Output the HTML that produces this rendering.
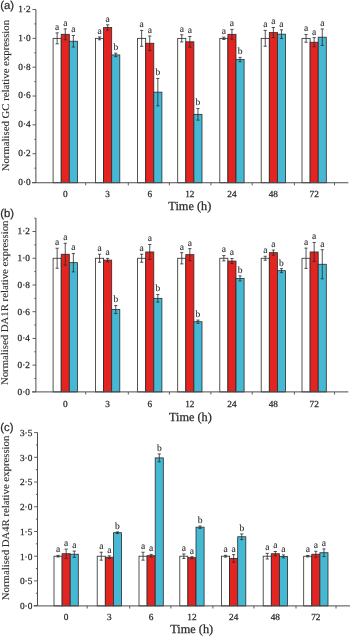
<!DOCTYPE html>
<html><head><meta charset="utf-8"><style>
html,body{margin:0;padding:0;background:#fff;width:350px;height:636px;overflow:hidden}
svg{display:block;will-change:transform;filter:blur(0.3px)}
text{text-rendering:geometricPrecision}
text{font-family:"Liberation Serif",serif;fill:#2b2b2b;stroke:#2b2b2b;stroke-width:0.25px}
.lab{font-family:"Liberation Sans",sans-serif;font-size:11.3px}
.ttl{font-size:10.75px;stroke-width:0.12px}
.tk{font-size:9.3px}
.let{font-size:9.5px;stroke-width:0.12px}
.tm{font-size:12.3px}
</style></head><body>
<svg width="350" height="636" viewBox="0 0 350 636">
<text x="0.3" y="9.4" class="lab">(a)</text>
<text transform="translate(8.6,95.6) rotate(-90) scale(1,0.95)" text-anchor="middle" class="ttl">Normalised GC relative expression</text>
<rect x="53.1" y="38.35" width="8.1" height="144.4" fill="#ffffff" stroke="#2a2a2a" stroke-width="0.8"/>
<path d="M57.15 32.87V43.83M55.55 32.87H58.75M55.55 43.83H58.75" stroke="#2a2a2a" stroke-width="0.8" fill="none"/>
<text x="57.15" y="29.77" text-anchor="middle" class="let">a</text>
<rect x="61.2" y="34.31" width="8.1" height="148.44" fill="#e42421" stroke="#2a2a2a" stroke-width="0.8"/>
<path d="M65.25 28.83V39.79M63.65 28.83H66.85M63.65 39.79H66.85" stroke="#2a2a2a" stroke-width="0.8" fill="none"/>
<text x="65.25" y="25.73" text-anchor="middle" class="let">a</text>
<rect x="69.3" y="41.23" width="8.1" height="141.52" fill="#45b9d3" stroke="#2a2a2a" stroke-width="0.8"/>
<path d="M73.35 35.47V47M71.75 35.47H74.95M71.75 47H74.95" stroke="#2a2a2a" stroke-width="0.8" fill="none"/>
<text x="73.35" y="32.37" text-anchor="middle" class="let">a</text>
<rect x="95.5" y="38.35" width="8.1" height="144.4" fill="#ffffff" stroke="#2a2a2a" stroke-width="0.8"/>
<path d="M99.55 36.91V39.79M97.95 36.91H101.15M97.95 39.79H101.15" stroke="#2a2a2a" stroke-width="0.8" fill="none"/>
<text x="99.55" y="33.81" text-anchor="middle" class="let">a</text>
<rect x="103.6" y="27.54" width="8.1" height="155.21" fill="#e42421" stroke="#2a2a2a" stroke-width="0.8"/>
<path d="M107.65 24.8V30.27M106.05 24.8H109.25M106.05 30.27H109.25" stroke="#2a2a2a" stroke-width="0.8" fill="none"/>
<text x="107.65" y="21.7" text-anchor="middle" class="let">a</text>
<rect x="111.7" y="54.93" width="8.1" height="127.82" fill="#45b9d3" stroke="#2a2a2a" stroke-width="0.8"/>
<path d="M115.75 53.2V56.66M114.15 53.2H117.35M114.15 56.66H117.35" stroke="#2a2a2a" stroke-width="0.8" fill="none"/>
<text x="115.75" y="50.1" text-anchor="middle" class="let">b</text>
<rect x="137.6" y="38.35" width="8.1" height="144.4" fill="#ffffff" stroke="#2a2a2a" stroke-width="0.8"/>
<path d="M141.65 30.42V46.28M140.05 30.42H143.25M140.05 46.28H143.25" stroke="#2a2a2a" stroke-width="0.8" fill="none"/>
<text x="141.65" y="27.32" text-anchor="middle" class="let">a</text>
<rect x="145.7" y="43.25" width="8.1" height="139.5" fill="#e42421" stroke="#2a2a2a" stroke-width="0.8"/>
<path d="M149.75 36.04V50.46M148.15 36.04H151.35M148.15 50.46H151.35" stroke="#2a2a2a" stroke-width="0.8" fill="none"/>
<text x="149.75" y="32.94" text-anchor="middle" class="let">a</text>
<rect x="153.8" y="92.14" width="8.1" height="90.61" fill="#45b9d3" stroke="#2a2a2a" stroke-width="0.8"/>
<path d="M157.85 78.44V105.84M156.25 78.44H159.45M156.25 105.84H159.45" stroke="#2a2a2a" stroke-width="0.8" fill="none"/>
<text x="157.85" y="75.34" text-anchor="middle" class="let">b</text>
<rect x="177.7" y="38.35" width="8.1" height="144.4" fill="#ffffff" stroke="#2a2a2a" stroke-width="0.8"/>
<path d="M181.75 34.75V41.96M180.15 34.75H183.35M180.15 41.96H183.35" stroke="#2a2a2a" stroke-width="0.8" fill="none"/>
<text x="181.75" y="31.65" text-anchor="middle" class="let">a</text>
<rect x="185.8" y="41.81" width="8.1" height="140.94" fill="#e42421" stroke="#2a2a2a" stroke-width="0.8"/>
<path d="M189.85 36.48V47.15M188.25 36.48H191.45M188.25 47.15H191.45" stroke="#2a2a2a" stroke-width="0.8" fill="none"/>
<text x="189.85" y="33.38" text-anchor="middle" class="let">a</text>
<rect x="193.9" y="114.34" width="8.1" height="68.41" fill="#45b9d3" stroke="#2a2a2a" stroke-width="0.8"/>
<path d="M197.95 108.58V120.11M196.35 108.58H199.55M196.35 120.11H199.55" stroke="#2a2a2a" stroke-width="0.8" fill="none"/>
<text x="197.95" y="105.48" text-anchor="middle" class="let">b</text>
<rect x="219.8" y="38.35" width="8.1" height="144.4" fill="#ffffff" stroke="#2a2a2a" stroke-width="0.8"/>
<path d="M223.85 37.2V39.5M222.25 37.2H225.45M222.25 39.5H225.45" stroke="#2a2a2a" stroke-width="0.8" fill="none"/>
<text x="223.85" y="34.1" text-anchor="middle" class="let">a</text>
<rect x="227.9" y="34.31" width="8.1" height="148.44" fill="#e42421" stroke="#2a2a2a" stroke-width="0.8"/>
<path d="M231.95 29.41V39.22M230.35 29.41H233.55M230.35 39.22H233.55" stroke="#2a2a2a" stroke-width="0.8" fill="none"/>
<text x="231.95" y="26.31" text-anchor="middle" class="let">a</text>
<rect x="236" y="59.55" width="8.1" height="123.2" fill="#45b9d3" stroke="#2a2a2a" stroke-width="0.8"/>
<path d="M240.05 57.38V61.71M238.45 57.38H241.65M238.45 61.71H241.65" stroke="#2a2a2a" stroke-width="0.8" fill="none"/>
<text x="240.05" y="54.28" text-anchor="middle" class="let">b</text>
<rect x="261.2" y="38.35" width="8.1" height="144.4" fill="#ffffff" stroke="#2a2a2a" stroke-width="0.8"/>
<path d="M265.25 30.42V46.28M263.65 30.42H266.85M263.65 46.28H266.85" stroke="#2a2a2a" stroke-width="0.8" fill="none"/>
<text x="265.25" y="27.32" text-anchor="middle" class="let">a</text>
<rect x="269.3" y="32.58" width="8.1" height="150.17" fill="#e42421" stroke="#2a2a2a" stroke-width="0.8"/>
<path d="M273.35 27.54V37.63M271.75 27.54H274.95M271.75 37.63H274.95" stroke="#2a2a2a" stroke-width="0.8" fill="none"/>
<text x="273.35" y="24.44" text-anchor="middle" class="let">a</text>
<rect x="277.4" y="34.17" width="8.1" height="148.58" fill="#45b9d3" stroke="#2a2a2a" stroke-width="0.8"/>
<path d="M281.45 29.84V38.49M279.85 29.84H283.05M279.85 38.49H283.05" stroke="#2a2a2a" stroke-width="0.8" fill="none"/>
<text x="281.45" y="26.74" text-anchor="middle" class="let">a</text>
<rect x="302" y="38.35" width="8.1" height="144.4" fill="#ffffff" stroke="#2a2a2a" stroke-width="0.8"/>
<path d="M306.05 34.46V42.24M304.45 34.46H307.65M304.45 42.24H307.65" stroke="#2a2a2a" stroke-width="0.8" fill="none"/>
<text x="306.05" y="31.36" text-anchor="middle" class="let">a</text>
<rect x="310.1" y="42.24" width="8.1" height="140.51" fill="#e42421" stroke="#2a2a2a" stroke-width="0.8"/>
<path d="M314.15 37.63V46.86M312.55 37.63H315.75M312.55 46.86H315.75" stroke="#2a2a2a" stroke-width="0.8" fill="none"/>
<text x="314.15" y="34.53" text-anchor="middle" class="let">a</text>
<rect x="318.2" y="37.2" width="8.1" height="145.55" fill="#45b9d3" stroke="#2a2a2a" stroke-width="0.8"/>
<path d="M322.25 28.98V45.42M320.65 28.98H323.85M320.65 45.42H323.85" stroke="#2a2a2a" stroke-width="0.8" fill="none"/>
<text x="322.25" y="25.88" text-anchor="middle" class="let">a</text>
<path d="M35.9 9.51V182.75" stroke="#4c4c4c" stroke-width="1" fill="none"/>
<path d="M32 182.75H348.3" stroke="#4c4c4c" stroke-width="1" fill="none"/>
<path d="M32.5 182.55H35.9" stroke="#4c4c4c" stroke-width="0.9"/>
<text x="30.7" y="185" text-anchor="end" class="tk">0·0</text>
<path d="M34.3 168.13H35.9" stroke="#4c4c4c" stroke-width="0.9"/>
<path d="M32.5 153.71H35.9" stroke="#4c4c4c" stroke-width="0.9"/>
<text x="30.7" y="156.16" text-anchor="end" class="tk">0·2</text>
<path d="M34.3 139.29H35.9" stroke="#4c4c4c" stroke-width="0.9"/>
<path d="M32.5 124.87H35.9" stroke="#4c4c4c" stroke-width="0.9"/>
<text x="30.7" y="127.32" text-anchor="end" class="tk">0·4</text>
<path d="M34.3 110.45H35.9" stroke="#4c4c4c" stroke-width="0.9"/>
<path d="M32.5 96.03H35.9" stroke="#4c4c4c" stroke-width="0.9"/>
<text x="30.7" y="98.48" text-anchor="end" class="tk">0·6</text>
<path d="M34.3 81.61H35.9" stroke="#4c4c4c" stroke-width="0.9"/>
<path d="M32.5 67.19H35.9" stroke="#4c4c4c" stroke-width="0.9"/>
<text x="30.7" y="69.64" text-anchor="end" class="tk">0·8</text>
<path d="M34.3 52.77H35.9" stroke="#4c4c4c" stroke-width="0.9"/>
<path d="M32.5 38.35H35.9" stroke="#4c4c4c" stroke-width="0.9"/>
<text x="30.7" y="40.8" text-anchor="end" class="tk">1·0</text>
<path d="M34.3 23.93H35.9" stroke="#4c4c4c" stroke-width="0.9"/>
<path d="M32.5 9.51H35.9" stroke="#4c4c4c" stroke-width="0.9"/>
<text x="30.7" y="11.96" text-anchor="end" class="tk">1·2</text>
<path d="M85.7 182.75V185.35" stroke="#4c4c4c" stroke-width="0.9"/>
<path d="M128.3 182.75V185.35" stroke="#4c4c4c" stroke-width="0.9"/>
<path d="M169.4 182.75V185.35" stroke="#4c4c4c" stroke-width="0.9"/>
<path d="M210.9 182.75V185.35" stroke="#4c4c4c" stroke-width="0.9"/>
<path d="M252.2 182.75V185.35" stroke="#4c4c4c" stroke-width="0.9"/>
<path d="M294.4 182.75V185.35" stroke="#4c4c4c" stroke-width="0.9"/>
<path d="M334.5 182.75V185.35" stroke="#4c4c4c" stroke-width="0.9"/>
<text x="65.25" y="197.3" text-anchor="middle" class="tk">0</text>
<text x="107.65" y="197.3" text-anchor="middle" class="tk">3</text>
<text x="149.75" y="197.3" text-anchor="middle" class="tk">6</text>
<text x="189.85" y="197.3" text-anchor="middle" class="tk">12</text>
<text x="231.95" y="197.3" text-anchor="middle" class="tk">24</text>
<text x="273.35" y="197.3" text-anchor="middle" class="tk">48</text>
<text x="314.15" y="197.3" text-anchor="middle" class="tk">72</text>
<text x="189.8" y="210.4" text-anchor="middle" class="tm">Time (h)</text>
<text x="0.3" y="216.6" class="lab">(b)</text>
<text transform="translate(8.2,302.8) rotate(-90) scale(1,0.95)" text-anchor="middle" class="ttl">Normalised DA1R relative expression</text>
<rect x="53.1" y="258.25" width="8.1" height="133.65" fill="#ffffff" stroke="#2a2a2a" stroke-width="0.8"/>
<path d="M57.15 248.23V268.27M55.55 248.23H58.75M55.55 268.27H58.75" stroke="#2a2a2a" stroke-width="0.8" fill="none"/>
<text x="57.15" y="245.13" text-anchor="middle" class="let">a</text>
<rect x="61.2" y="254.24" width="8.1" height="137.66" fill="#e42421" stroke="#2a2a2a" stroke-width="0.8"/>
<path d="M65.25 243.29V265.2M63.65 243.29H66.85M63.65 265.2H66.85" stroke="#2a2a2a" stroke-width="0.8" fill="none"/>
<text x="65.25" y="240.19" text-anchor="middle" class="let">a</text>
<rect x="69.3" y="262.66" width="8.1" height="129.24" fill="#45b9d3" stroke="#2a2a2a" stroke-width="0.8"/>
<path d="M73.35 253.44V271.88M71.75 253.44H74.95M71.75 271.88H74.95" stroke="#2a2a2a" stroke-width="0.8" fill="none"/>
<text x="73.35" y="250.34" text-anchor="middle" class="let">a</text>
<rect x="95.5" y="258.25" width="8.1" height="133.65" fill="#ffffff" stroke="#2a2a2a" stroke-width="0.8"/>
<path d="M99.55 254.24V262.26M97.95 254.24H101.15M97.95 262.26H101.15" stroke="#2a2a2a" stroke-width="0.8" fill="none"/>
<text x="99.55" y="251.14" text-anchor="middle" class="let">a</text>
<rect x="103.6" y="260.12" width="8.1" height="131.78" fill="#e42421" stroke="#2a2a2a" stroke-width="0.8"/>
<path d="M107.65 258.38V261.86M106.05 258.38H109.25M106.05 261.86H109.25" stroke="#2a2a2a" stroke-width="0.8" fill="none"/>
<text x="107.65" y="255.28" text-anchor="middle" class="let">a</text>
<rect x="111.7" y="309.55" width="8.1" height="82.35" fill="#45b9d3" stroke="#2a2a2a" stroke-width="0.8"/>
<path d="M115.75 305.54V313.56M114.15 305.54H117.35M114.15 313.56H117.35" stroke="#2a2a2a" stroke-width="0.8" fill="none"/>
<text x="115.75" y="302.44" text-anchor="middle" class="let">b</text>
<rect x="137.6" y="258.25" width="8.1" height="133.65" fill="#ffffff" stroke="#2a2a2a" stroke-width="0.8"/>
<path d="M141.65 254.24V262.26M140.05 254.24H143.25M140.05 262.26H143.25" stroke="#2a2a2a" stroke-width="0.8" fill="none"/>
<text x="141.65" y="251.14" text-anchor="middle" class="let">a</text>
<rect x="145.7" y="251.97" width="8.1" height="139.93" fill="#e42421" stroke="#2a2a2a" stroke-width="0.8"/>
<path d="M149.75 244.49V259.45M148.15 244.49H151.35M148.15 259.45H151.35" stroke="#2a2a2a" stroke-width="0.8" fill="none"/>
<text x="149.75" y="241.39" text-anchor="middle" class="let">a</text>
<rect x="153.8" y="298.33" width="8.1" height="93.57" fill="#45b9d3" stroke="#2a2a2a" stroke-width="0.8"/>
<path d="M157.85 294.59V302.07M156.25 294.59H159.45M156.25 302.07H159.45" stroke="#2a2a2a" stroke-width="0.8" fill="none"/>
<text x="157.85" y="291.49" text-anchor="middle" class="let">b</text>
<rect x="177.7" y="258.25" width="8.1" height="133.65" fill="#ffffff" stroke="#2a2a2a" stroke-width="0.8"/>
<path d="M181.75 252.64V263.86M180.15 252.64H183.35M180.15 263.86H183.35" stroke="#2a2a2a" stroke-width="0.8" fill="none"/>
<text x="181.75" y="249.54" text-anchor="middle" class="let">a</text>
<rect x="185.8" y="254.64" width="8.1" height="137.26" fill="#e42421" stroke="#2a2a2a" stroke-width="0.8"/>
<path d="M189.85 248.63V260.65M188.25 248.63H191.45M188.25 260.65H191.45" stroke="#2a2a2a" stroke-width="0.8" fill="none"/>
<text x="189.85" y="245.53" text-anchor="middle" class="let">a</text>
<rect x="193.9" y="321.71" width="8.1" height="70.19" fill="#45b9d3" stroke="#2a2a2a" stroke-width="0.8"/>
<path d="M197.95 320.11V323.31M196.35 320.11H199.55M196.35 323.31H199.55" stroke="#2a2a2a" stroke-width="0.8" fill="none"/>
<text x="197.95" y="317.01" text-anchor="middle" class="let">b</text>
<rect x="219.8" y="258.25" width="8.1" height="133.65" fill="#ffffff" stroke="#2a2a2a" stroke-width="0.8"/>
<path d="M223.85 255.58V260.92M222.25 255.58H225.45M222.25 260.92H225.45" stroke="#2a2a2a" stroke-width="0.8" fill="none"/>
<text x="223.85" y="252.48" text-anchor="middle" class="let">a</text>
<rect x="227.9" y="261.06" width="8.1" height="130.84" fill="#e42421" stroke="#2a2a2a" stroke-width="0.8"/>
<path d="M231.95 258.52V263.59M230.35 258.52H233.55M230.35 263.59H233.55" stroke="#2a2a2a" stroke-width="0.8" fill="none"/>
<text x="231.95" y="255.42" text-anchor="middle" class="let">a</text>
<rect x="236" y="278.42" width="8.1" height="113.48" fill="#45b9d3" stroke="#2a2a2a" stroke-width="0.8"/>
<path d="M240.05 275.89V280.96M238.45 275.89H241.65M238.45 280.96H241.65" stroke="#2a2a2a" stroke-width="0.8" fill="none"/>
<text x="240.05" y="272.79" text-anchor="middle" class="let">b</text>
<rect x="261.2" y="258.25" width="8.1" height="133.65" fill="#ffffff" stroke="#2a2a2a" stroke-width="0.8"/>
<path d="M265.25 256.25V260.25M263.65 256.25H266.85M263.65 260.25H266.85" stroke="#2a2a2a" stroke-width="0.8" fill="none"/>
<text x="265.25" y="253.15" text-anchor="middle" class="let">a</text>
<rect x="269.3" y="252.64" width="8.1" height="139.26" fill="#e42421" stroke="#2a2a2a" stroke-width="0.8"/>
<path d="M273.35 250.1V255.18M271.75 250.1H274.95M271.75 255.18H274.95" stroke="#2a2a2a" stroke-width="0.8" fill="none"/>
<text x="273.35" y="247" text-anchor="middle" class="let">a</text>
<rect x="277.4" y="270.67" width="8.1" height="121.23" fill="#45b9d3" stroke="#2a2a2a" stroke-width="0.8"/>
<path d="M281.45 268.67V272.68M279.85 268.67H283.05M279.85 272.68H283.05" stroke="#2a2a2a" stroke-width="0.8" fill="none"/>
<text x="281.45" y="265.57" text-anchor="middle" class="let">b</text>
<rect x="302" y="258.25" width="8.1" height="133.65" fill="#ffffff" stroke="#2a2a2a" stroke-width="0.8"/>
<path d="M306.05 248.1V268.4M304.45 248.1H307.65M304.45 268.4H307.65" stroke="#2a2a2a" stroke-width="0.8" fill="none"/>
<text x="306.05" y="245" text-anchor="middle" class="let">a</text>
<rect x="310.1" y="251.97" width="8.1" height="139.93" fill="#e42421" stroke="#2a2a2a" stroke-width="0.8"/>
<path d="M314.15 242.49V261.46M312.55 242.49H315.75M312.55 261.46H315.75" stroke="#2a2a2a" stroke-width="0.8" fill="none"/>
<text x="314.15" y="239.39" text-anchor="middle" class="let">a</text>
<rect x="318.2" y="264.26" width="8.1" height="127.64" fill="#45b9d3" stroke="#2a2a2a" stroke-width="0.8"/>
<path d="M322.25 249.7V278.82M320.65 249.7H323.85M320.65 278.82H323.85" stroke="#2a2a2a" stroke-width="0.8" fill="none"/>
<text x="322.25" y="246.6" text-anchor="middle" class="let">a</text>
<path d="M35.9 218.17V391.9" stroke="#4c4c4c" stroke-width="1" fill="none"/>
<path d="M32 391.9H348.3" stroke="#4c4c4c" stroke-width="1" fill="none"/>
<path d="M32.5 391.85H35.9" stroke="#4c4c4c" stroke-width="0.9"/>
<text x="29.9" y="394.7" text-anchor="end" class="tk">0·0</text>
<path d="M34.3 378.49H35.9" stroke="#4c4c4c" stroke-width="0.9"/>
<path d="M32.5 365.13H35.9" stroke="#4c4c4c" stroke-width="0.9"/>
<text x="29.9" y="367.98" text-anchor="end" class="tk">0·2</text>
<path d="M34.3 351.77H35.9" stroke="#4c4c4c" stroke-width="0.9"/>
<path d="M32.5 338.41H35.9" stroke="#4c4c4c" stroke-width="0.9"/>
<text x="29.9" y="341.26" text-anchor="end" class="tk">0·4</text>
<path d="M34.3 325.05H35.9" stroke="#4c4c4c" stroke-width="0.9"/>
<path d="M32.5 311.69H35.9" stroke="#4c4c4c" stroke-width="0.9"/>
<text x="29.9" y="314.54" text-anchor="end" class="tk">0·6</text>
<path d="M34.3 298.33H35.9" stroke="#4c4c4c" stroke-width="0.9"/>
<path d="M32.5 284.97H35.9" stroke="#4c4c4c" stroke-width="0.9"/>
<text x="29.9" y="287.82" text-anchor="end" class="tk">0·8</text>
<path d="M34.3 271.61H35.9" stroke="#4c4c4c" stroke-width="0.9"/>
<path d="M32.5 258.25H35.9" stroke="#4c4c4c" stroke-width="0.9"/>
<text x="29.9" y="261.1" text-anchor="end" class="tk">1·0</text>
<path d="M34.3 244.89H35.9" stroke="#4c4c4c" stroke-width="0.9"/>
<path d="M32.5 231.53H35.9" stroke="#4c4c4c" stroke-width="0.9"/>
<text x="29.9" y="234.38" text-anchor="end" class="tk">1·2</text>
<path d="M34.3 218.17H35.9" stroke="#4c4c4c" stroke-width="0.9"/>
<path d="M85.7 391.9V394.5" stroke="#4c4c4c" stroke-width="0.9"/>
<path d="M128.3 391.9V394.5" stroke="#4c4c4c" stroke-width="0.9"/>
<path d="M169.4 391.9V394.5" stroke="#4c4c4c" stroke-width="0.9"/>
<path d="M210.9 391.9V394.5" stroke="#4c4c4c" stroke-width="0.9"/>
<path d="M252.2 391.9V394.5" stroke="#4c4c4c" stroke-width="0.9"/>
<path d="M294.4 391.9V394.5" stroke="#4c4c4c" stroke-width="0.9"/>
<path d="M334.5 391.9V394.5" stroke="#4c4c4c" stroke-width="0.9"/>
<text x="65.25" y="406.5" text-anchor="middle" class="tk">0</text>
<text x="107.65" y="406.5" text-anchor="middle" class="tk">3</text>
<text x="149.75" y="406.5" text-anchor="middle" class="tk">6</text>
<text x="189.85" y="406.5" text-anchor="middle" class="tk">12</text>
<text x="231.95" y="406.5" text-anchor="middle" class="tk">24</text>
<text x="273.35" y="406.5" text-anchor="middle" class="tk">48</text>
<text x="314.15" y="406.5" text-anchor="middle" class="tk">72</text>
<text x="190.4" y="420.7" text-anchor="middle" class="tm">Time (h)</text>
<text x="0.3" y="431.0" class="lab">(c)</text>
<text transform="translate(9.3,517.9) rotate(-90) scale(1,0.95)" text-anchor="middle" class="ttl">Normalised DA4R relative expression</text>
<rect x="54" y="556.2" width="8.1" height="49.7" fill="#ffffff" stroke="#2a2a2a" stroke-width="0.8"/>
<path d="M58.05 555.41V556.99M56.45 555.41H59.65M56.45 556.99H59.65" stroke="#2a2a2a" stroke-width="0.8" fill="none"/>
<text x="58.05" y="552.31" text-anchor="middle" class="let">a</text>
<rect x="62.1" y="553.73" width="8.1" height="52.17" fill="#e42421" stroke="#2a2a2a" stroke-width="0.8"/>
<path d="M66.15 549.08V558.38M64.55 549.08H67.75M64.55 558.38H67.75" stroke="#2a2a2a" stroke-width="0.8" fill="none"/>
<text x="66.15" y="545.98" text-anchor="middle" class="let">a</text>
<rect x="70.2" y="554.22" width="8.1" height="51.68" fill="#45b9d3" stroke="#2a2a2a" stroke-width="0.8"/>
<path d="M74.25 551.11V557.34M72.65 551.11H75.85M72.65 557.34H75.85" stroke="#2a2a2a" stroke-width="0.8" fill="none"/>
<text x="74.25" y="548.01" text-anchor="middle" class="let">a</text>
<rect x="97.2" y="556.2" width="8.1" height="49.7" fill="#ffffff" stroke="#2a2a2a" stroke-width="0.8"/>
<path d="M101.25 552.24V560.16M99.65 552.24H102.85M99.65 560.16H102.85" stroke="#2a2a2a" stroke-width="0.8" fill="none"/>
<text x="101.25" y="549.14" text-anchor="middle" class="let">a</text>
<rect x="105.3" y="557.19" width="8.1" height="48.71" fill="#e42421" stroke="#2a2a2a" stroke-width="0.8"/>
<path d="M109.35 555.85V558.52M107.75 555.85H110.95M107.75 558.52H110.95" stroke="#2a2a2a" stroke-width="0.8" fill="none"/>
<text x="109.35" y="552.75" text-anchor="middle" class="let">a</text>
<rect x="113.4" y="532.71" width="8.1" height="73.19" fill="#45b9d3" stroke="#2a2a2a" stroke-width="0.8"/>
<path d="M117.45 531.92V533.5M115.85 531.92H119.05M115.85 533.5H119.05" stroke="#2a2a2a" stroke-width="0.8" fill="none"/>
<text x="117.45" y="528.82" text-anchor="middle" class="let">b</text>
<rect x="139" y="556.2" width="8.1" height="49.7" fill="#ffffff" stroke="#2a2a2a" stroke-width="0.8"/>
<path d="M143.05 552.24V560.16M141.45 552.24H144.65M141.45 560.16H144.65" stroke="#2a2a2a" stroke-width="0.8" fill="none"/>
<text x="143.05" y="549.14" text-anchor="middle" class="let">a</text>
<rect x="147.1" y="555.71" width="8.1" height="50.19" fill="#e42421" stroke="#2a2a2a" stroke-width="0.8"/>
<path d="M151.15 554.37V557.04M149.55 554.37H152.75M149.55 557.04H152.75" stroke="#2a2a2a" stroke-width="0.8" fill="none"/>
<text x="151.15" y="551.27" text-anchor="middle" class="let">a</text>
<rect x="155.2" y="457.89" width="8.1" height="148.01" fill="#45b9d3" stroke="#2a2a2a" stroke-width="0.8"/>
<path d="M159.25 453.94V461.85M157.65 453.94H160.85M157.65 461.85H160.85" stroke="#2a2a2a" stroke-width="0.8" fill="none"/>
<text x="159.25" y="450.84" text-anchor="middle" class="let">b</text>
<rect x="179.8" y="556.2" width="8.1" height="49.7" fill="#ffffff" stroke="#2a2a2a" stroke-width="0.8"/>
<path d="M183.85 553.97V558.43M182.25 553.97H185.45M182.25 558.43H185.45" stroke="#2a2a2a" stroke-width="0.8" fill="none"/>
<text x="183.85" y="550.87" text-anchor="middle" class="let">a</text>
<rect x="187.9" y="557.68" width="8.1" height="48.22" fill="#e42421" stroke="#2a2a2a" stroke-width="0.8"/>
<path d="M191.95 556.69V558.67M190.35 556.69H193.55M190.35 558.67H193.55" stroke="#2a2a2a" stroke-width="0.8" fill="none"/>
<text x="191.95" y="553.59" text-anchor="middle" class="let">a</text>
<rect x="196" y="527.17" width="8.1" height="78.73" fill="#45b9d3" stroke="#2a2a2a" stroke-width="0.8"/>
<path d="M200.05 525.99V528.36M198.45 525.99H201.65M198.45 528.36H201.65" stroke="#2a2a2a" stroke-width="0.8" fill="none"/>
<text x="200.05" y="522.89" text-anchor="middle" class="let">b</text>
<rect x="221.5" y="556.2" width="8.1" height="49.7" fill="#ffffff" stroke="#2a2a2a" stroke-width="0.8"/>
<path d="M225.55 555.31V557.09M223.95 555.31H227.15M223.95 557.09H227.15" stroke="#2a2a2a" stroke-width="0.8" fill="none"/>
<text x="225.55" y="552.21" text-anchor="middle" class="let">a</text>
<rect x="229.6" y="558.43" width="8.1" height="47.47" fill="#e42421" stroke="#2a2a2a" stroke-width="0.8"/>
<path d="M233.65 554.62V562.23M232.05 554.62H235.25M232.05 562.23H235.25" stroke="#2a2a2a" stroke-width="0.8" fill="none"/>
<text x="233.65" y="551.52" text-anchor="middle" class="let">a</text>
<rect x="237.7" y="536.77" width="8.1" height="69.13" fill="#45b9d3" stroke="#2a2a2a" stroke-width="0.8"/>
<path d="M241.75 533.95V539.58M240.15 533.95H243.35M240.15 539.58H243.35" stroke="#2a2a2a" stroke-width="0.8" fill="none"/>
<text x="241.75" y="530.85" text-anchor="middle" class="let">b</text>
<rect x="263.2" y="556.2" width="8.1" height="49.7" fill="#ffffff" stroke="#2a2a2a" stroke-width="0.8"/>
<path d="M267.25 553.38V559.02M265.65 553.38H268.85M265.65 559.02H268.85" stroke="#2a2a2a" stroke-width="0.8" fill="none"/>
<text x="267.25" y="550.28" text-anchor="middle" class="let">a</text>
<rect x="271.3" y="553.73" width="8.1" height="52.17" fill="#e42421" stroke="#2a2a2a" stroke-width="0.8"/>
<path d="M275.35 551.5V555.95M273.75 551.5H276.95M273.75 555.95H276.95" stroke="#2a2a2a" stroke-width="0.8" fill="none"/>
<text x="275.35" y="548.4" text-anchor="middle" class="let">a</text>
<rect x="279.4" y="556.4" width="8.1" height="49.5" fill="#45b9d3" stroke="#2a2a2a" stroke-width="0.8"/>
<path d="M283.45 554.91V557.88M281.85 554.91H285.05M281.85 557.88H285.05" stroke="#2a2a2a" stroke-width="0.8" fill="none"/>
<text x="283.45" y="551.81" text-anchor="middle" class="let">a</text>
<rect x="303.7" y="556.2" width="8.1" height="49.7" fill="#ffffff" stroke="#2a2a2a" stroke-width="0.8"/>
<path d="M307.75 555.46V556.94M306.15 555.46H309.35M306.15 556.94H309.35" stroke="#2a2a2a" stroke-width="0.8" fill="none"/>
<text x="307.75" y="552.36" text-anchor="middle" class="let">a</text>
<rect x="311.8" y="554.22" width="8.1" height="51.68" fill="#e42421" stroke="#2a2a2a" stroke-width="0.8"/>
<path d="M315.85 551.25V557.19M314.25 551.25H317.45M314.25 557.19H317.45" stroke="#2a2a2a" stroke-width="0.8" fill="none"/>
<text x="315.85" y="548.15" text-anchor="middle" class="let">a</text>
<rect x="319.9" y="552.74" width="8.1" height="53.16" fill="#45b9d3" stroke="#2a2a2a" stroke-width="0.8"/>
<path d="M323.95 548.93V556.55M322.35 548.93H325.55M322.35 556.55H325.55" stroke="#2a2a2a" stroke-width="0.8" fill="none"/>
<text x="323.95" y="545.83" text-anchor="middle" class="let">a</text>
<path d="M37.5 432.57V605.9" stroke="#4c4c4c" stroke-width="1" fill="none"/>
<path d="M33.6 605.9H350" stroke="#4c4c4c" stroke-width="1" fill="none"/>
<path d="M34.1 605.65H37.5" stroke="#4c4c4c" stroke-width="0.9"/>
<text x="32.3" y="609" text-anchor="end" class="tk">0·0</text>
<path d="M35.9 593.29H37.5" stroke="#4c4c4c" stroke-width="0.9"/>
<path d="M34.1 580.92H37.5" stroke="#4c4c4c" stroke-width="0.9"/>
<text x="32.3" y="584.27" text-anchor="end" class="tk">0·5</text>
<path d="M35.9 568.56H37.5" stroke="#4c4c4c" stroke-width="0.9"/>
<path d="M34.1 556.2H37.5" stroke="#4c4c4c" stroke-width="0.9"/>
<text x="32.3" y="559.55" text-anchor="end" class="tk">1·0</text>
<path d="M35.9 543.84H37.5" stroke="#4c4c4c" stroke-width="0.9"/>
<path d="M34.1 531.47H37.5" stroke="#4c4c4c" stroke-width="0.9"/>
<text x="32.3" y="534.82" text-anchor="end" class="tk">1·5</text>
<path d="M35.9 519.11H37.5" stroke="#4c4c4c" stroke-width="0.9"/>
<path d="M34.1 506.75H37.5" stroke="#4c4c4c" stroke-width="0.9"/>
<text x="32.3" y="510.1" text-anchor="end" class="tk">2·0</text>
<path d="M35.9 494.39H37.5" stroke="#4c4c4c" stroke-width="0.9"/>
<path d="M34.1 482.02H37.5" stroke="#4c4c4c" stroke-width="0.9"/>
<text x="32.3" y="485.37" text-anchor="end" class="tk">2·5</text>
<path d="M35.9 469.66H37.5" stroke="#4c4c4c" stroke-width="0.9"/>
<path d="M34.1 457.3H37.5" stroke="#4c4c4c" stroke-width="0.9"/>
<text x="32.3" y="460.65" text-anchor="end" class="tk">3·0</text>
<path d="M35.9 444.94H37.5" stroke="#4c4c4c" stroke-width="0.9"/>
<path d="M34.1 432.57H37.5" stroke="#4c4c4c" stroke-width="0.9"/>
<text x="32.3" y="435.92" text-anchor="end" class="tk">3·5</text>
<path d="M87.2 605.9V608.5" stroke="#4c4c4c" stroke-width="0.9"/>
<path d="M129.7 605.9V608.5" stroke="#4c4c4c" stroke-width="0.9"/>
<path d="M170.9 605.9V608.5" stroke="#4c4c4c" stroke-width="0.9"/>
<path d="M212.9 605.9V608.5" stroke="#4c4c4c" stroke-width="0.9"/>
<path d="M253.9 605.9V608.5" stroke="#4c4c4c" stroke-width="0.9"/>
<path d="M296.0 605.9V608.5" stroke="#4c4c4c" stroke-width="0.9"/>
<path d="M336.0 605.9V608.5" stroke="#4c4c4c" stroke-width="0.9"/>
<text x="66.15" y="619.6" text-anchor="middle" class="tk">0</text>
<text x="109.35" y="619.6" text-anchor="middle" class="tk">3</text>
<text x="151.15" y="619.6" text-anchor="middle" class="tk">6</text>
<text x="191.95" y="619.6" text-anchor="middle" class="tk">12</text>
<text x="233.65" y="619.6" text-anchor="middle" class="tk">24</text>
<text x="275.35" y="619.6" text-anchor="middle" class="tk">48</text>
<text x="315.85" y="619.6" text-anchor="middle" class="tk">72</text>
<text x="191.7" y="633.3" text-anchor="middle" class="tm">Time (h)</text>
</svg>
</body></html>
